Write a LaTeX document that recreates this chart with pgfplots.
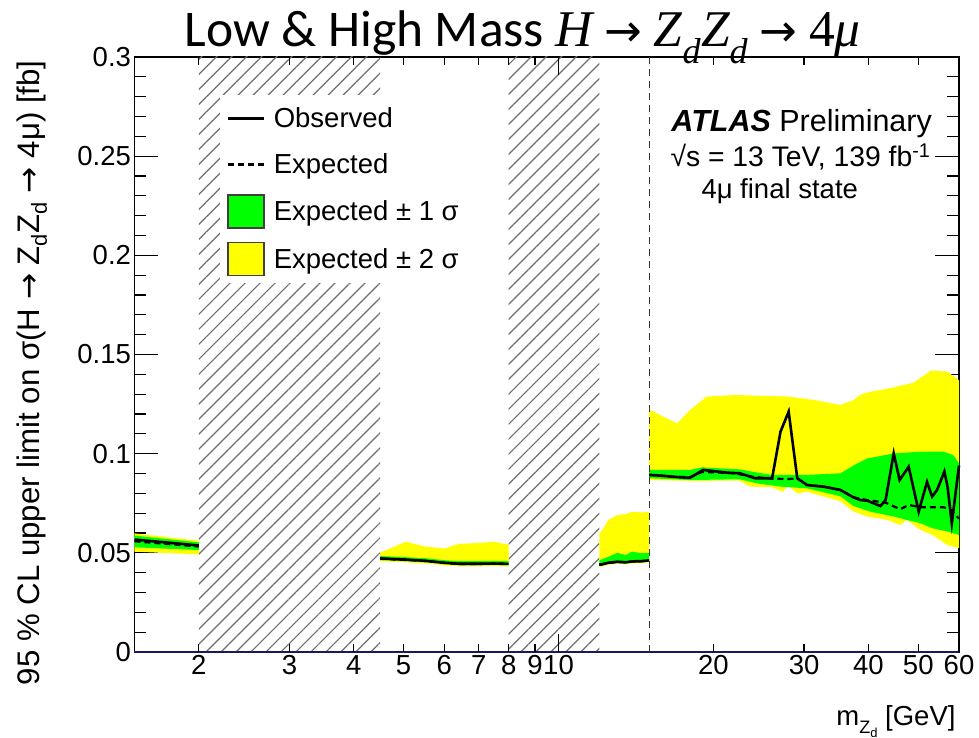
\documentclass[border=0pt]{standalone}
\usepackage{fontspec}
\setmainfont{Liberation Sans}
\newfontfamily\calibri{Carlito}
\newfontfamily\serifit{Liberation Serif}
\newfontfamily\arrowfont{DejaVu Sans}
\usepackage{pgfplots}
\pgfplotsset{compat=1.18}
\usetikzlibrary{patterns.meta}
\definecolor{rootyellow}{RGB}{255,255,0}
\definecolor{rootgreen}{RGB}{0,255,0}
\definecolor{hatchgray}{RGB}{110,110,110}
\definecolor{navyline}{RGB}{25,25,95}
\newcommand\tk{\fontsize{27.5}{33}\selectfont}
\pgfplotsset{
  lineleg/.style={legend image code/.code={\path[draw=none,fill=none] (0pt,-16.5pt) rectangle (36pt,16.5pt); \draw[##1] (0pt,0pt) -- (36pt,0pt);}},
  boxleg/.style={legend image code/.code={\draw[##1] (0pt,-16.5pt) rectangle (36pt,16.5pt);}},
}
\begin{document}
\begin{tikzpicture}
\begin{axis}[
  scale only axis, width=824.5pt, height=595pt,
  xmode=log, xmin=1.5, xmax=60, ymin=0, ymax=0.3,
  clip=false,
  axis line style={line width=1.5pt},
  tick style={line width=1.2pt, black},
  major tick length=24pt, minor tick length=12pt,
  xtick={2,3,4,5,6,7,8,9,10,20,30,40,50,60},
  xticklabels={2,3,4,5,6,7,8,9,10,20,30,40,50,60},
  xtick style={draw=none},
  minor xtick={},
  ytick={0,0.05,0.1,0.15,0.2,0.25,0.3},
  yticklabels={0,0.05,0.1,0.15,0.2,0.25,0.3},
  minor y tick num=4,
  scaled y ticks=false,
  /pgf/number format/assume math mode=true,
  ticklabel style={font=\tk},
  legend style={at={(0.1037,0.9361)}, anchor=north west, draw=none, fill=white,
    inner xsep=6.5pt, inner ysep=6.5pt, row sep=13.3pt, column sep=6.5pt,
    nodes={inner sep=2pt}, font=\tk},
  legend cell align=left,
]
% legend entries
\addlegendimage{lineleg, black, line width=2.6pt}
\addlegendentry{Observed}
\addlegendimage{lineleg, black, line width=2.2pt, dash pattern=on 6pt off 4pt}
\addlegendentry{Expected}
\addlegendimage{boxleg, fill=rootgreen, draw=black!75, line width=1.2pt}
\addlegendentry{Expected ± 1 σ}
\addlegendimage{boxleg, fill=rootyellow, draw=black!75, line width=1.2pt}
\addlegendentry{Expected ± 2 σ}

% hatched excluded regions
\addplot[forget plot, draw=none, pattern={Lines[angle=45,distance=10.6pt,line width=1.2pt]}, pattern color=hatchgray]
  coordinates {(2,0) (2,0.3) (4.5,0.3) (4.5,0)} -- cycle;
\addplot[forget plot, draw=none, pattern={Lines[angle=45,distance=10.6pt,line width=1.2pt]}, pattern color=hatchgray]
  coordinates {(8,0) (8,0.3) (12,0.3) (12,0)} -- cycle;

% ---- segment A (1.5-2)
\addplot[forget plot, fill=rootyellow, draw=none] coordinates {(1.5,0.0598) (2,0.0561) (2,0.0492) (1.5,0.0506)} -- cycle;
\addplot[forget plot, fill=rootgreen, draw=none] coordinates {(1.5,0.0587) (2,0.0553) (2,0.0514) (1.5,0.0528)} -- cycle;
\addplot[forget plot, black, line width=2.2pt, dash pattern=on 6pt off 4pt] coordinates {(1.5,0.0558) (2,0.0532)};
\addplot[forget plot, black, line width=2.6pt] coordinates {(1.5,0.0567) (2,0.0537)};

% ---- segment B (4.5-8)
\addplot[forget plot, fill=rootyellow, draw=none] coordinates {
 (4.5,0.0500) (5.05,0.0556) (5.5,0.0532) (6,0.0522) (6.4,0.0545) (7,0.0550) (7.5,0.0556) (8,0.0540)
 (8,0.0432) (7.5,0.0433) (7,0.0432) (6.4,0.0432) (6,0.0437) (5.5,0.0447) (5.05,0.0452) (4.5,0.0458)} -- cycle;
\addplot[forget plot, fill=rootgreen, draw=none] coordinates {
 (4.5,0.0484) (5.05,0.0478) (5.5,0.0473) (6,0.0463) (6.4,0.0458) (7,0.0458) (7.5,0.0459) (8,0.0458)
 (8,0.0438) (7.5,0.0439) (7,0.0438) (6.4,0.0438) (6,0.0443) (5.5,0.0453) (5.05,0.0458) (4.5,0.0464)} -- cycle;
\addplot[forget plot, black, line width=2.2pt, dash pattern=on 6pt off 4pt] coordinates {
 (4.5,0.0470) (5.05,0.0464) (5.5,0.0459) (6,0.0449) (6.4,0.0444) (7,0.0444) (7.5,0.0445) (8,0.0444)};
\addplot[forget plot, black, line width=2.6pt] coordinates {
 (4.5,0.0472) (5.05,0.0466) (5.5,0.0460) (6,0.0450) (6.4,0.0445) (7,0.0445) (7.5,0.0446) (8,0.0444)};

% ---- segment C (12-15)
\addplot[forget plot, fill=rootyellow, draw=none] coordinates {
 (12,0.0600) (12.16,0.0615) (12.5,0.0666) (13,0.0690) (13.5,0.0696) (13.9,0.0706) (14.5,0.0704) (15,0.0706)
 (15,0.0452) (14.5,0.0448) (13.9,0.0447) (13.5,0.0442) (13,0.0445) (12.5,0.0440) (12.16,0.0432) (12,0.0430)} -- cycle;
\addplot[forget plot, fill=rootgreen, draw=none] coordinates {
 (12,0.0462) (12.16,0.0468) (12.5,0.0480) (13,0.0500) (13.5,0.0489) (13.9,0.0506) (14.5,0.0498) (15,0.0500)
 (15,0.0456) (14.5,0.0452) (13.9,0.0451) (13.5,0.0446) (13,0.0449) (12.5,0.0444) (12.16,0.0436) (12,0.0434)} -- cycle;
\addplot[forget plot, black, line width=2.2pt, dash pattern=on 6pt off 4pt] coordinates {
 (12,0.0441) (12.16,0.0443) (12.5,0.0449) (13,0.0454) (13.5,0.0453) (13.9,0.0456) (14.5,0.0458) (15,0.0461)};
\addplot[forget plot, black, line width=2.6pt] coordinates {
 (12,0.0440) (12.16,0.0442) (12.5,0.0450) (13,0.0455) (13.5,0.0452) (13.9,0.0457) (14.5,0.0458) (15,0.0462)};

% ---- segment D (15-60)
\addplot[forget plot, fill=rootyellow, draw=none] coordinates {
 (15,0.1222) (17,0.1153) (18,0.1220) (19.4,0.1288) (22,0.1296) (28,0.1288) (31.5,0.1270) (35.3,0.1246)
 (37.4,0.1270) (38.5,0.1296) (40,0.1310) (44,0.1330) (49,0.1358) (53,0.1420) (57,0.1413) (60,0.1370)
 (60,0.0523) (56.9,0.0540) (53.3,0.0590) (50.5,0.0615) (47.5,0.0666) (46.1,0.0640) (43.6,0.0666)
 (39.8,0.0683) (37.4,0.0708) (35.3,0.0760) (30.4,0.0808) (29.1,0.0800) (28,0.0837) (27.2,0.0808)
 (26,0.0831) (23.5,0.0834) (22.5,0.0864) (18,0.0863) (15,0.0867)} -- cycle;
\addplot[forget plot, fill=rootgreen, draw=none] coordinates {
 (15,0.0918) (18,0.0918) (19,0.0931) (22.5,0.0921) (24.3,0.0905) (26,0.0893) (30.4,0.0893) (35.3,0.0901)
 (37.4,0.0940) (39.8,0.0976) (44.8,0.1001) (50.5,0.1010) (56,0.1010) (58.5,0.0993) (60,0.0951)
 (60,0.0590) (57,0.0607) (53.3,0.0624) (50.5,0.0649) (47.5,0.0666) (44.8,0.0683) (40.3,0.0708)
 (37.4,0.0736) (35.3,0.0785) (30.4,0.0825) (27,0.0834) (24.3,0.0850) (22.5,0.0871) (18,0.0867) (15,0.0876)} -- cycle;
\addplot[forget plot, black, line width=2.2pt, dash pattern=on 6pt off 4pt] coordinates {
 (15,0.0893) (16,0.0888) (17,0.0883) (18,0.0881) (19,0.0908) (20,0.0906) (22,0.0901) (24,0.0882)
 (26,0.0874) (28,0.0872) (29.1,0.0876) (30.4,0.0842) (32.7,0.0834) (35.3,0.0817) (37.4,0.0780)
 (39.8,0.0766) (43.2,0.0753) (46.1,0.0720) (47.9,0.0741) (50.6,0.0730) (56,0.0730) (57.9,0.0716) (60,0.0672)};
\addplot[forget plot, black, line width=2.6pt] coordinates {
 (15,0.0893) (16,0.0888) (17,0.0882) (18,0.0878) (19.1,0.0918) (21.3,0.0904) (22.5,0.0901) (24.1,0.0876)
 (26,0.0876) (27,0.1111) (28,0.1212) (29.1,0.0876) (30.4,0.0842) (32.7,0.0834) (35.3,0.0817) (37.4,0.0780)
 (38.6,0.0766) (39.8,0.0763) (42.2,0.0736) (43.2,0.0766) (44.8,0.1001) (46.0,0.0867) (47.9,0.0934)
 (50.1,0.0708) (52.0,0.0858) (53.2,0.0783) (54.4,0.0817) (56.2,0.0910) (57.0,0.0834) (58.1,0.0649) (60,0.0940)};

% boundary at 15 GeV and y=0 line
\addplot[forget plot, black!80, line width=1.3pt, dash pattern=on 7pt off 5pt] coordinates {(15,0) (15,0.3)};
\addplot[forget plot, navyline, line width=2.2pt] coordinates {(1.5,0) (60,0)};

% x-axis tick marks (short; longer at 10)
\pgfplotsinvokeforeach{2,3,4,5,6,7,8,9,20,30,40,50,60}{
  \draw[black, line width=1.2pt] (axis cs:#1,0) -- ++(0pt,8pt);
  \draw[black, line width=1.2pt] (axis cs:#1,0.3) -- ++(0pt,-8pt);
}
\draw[black, line width=1.2pt] (axis cs:10,0) -- ++(0pt,18pt);
\draw[black, line width=1.2pt] (axis cs:10,0.3) -- ++(0pt,-18pt);

% texts
\node[anchor=base west, font=\fontsize{30.5}{36}\selectfont] at (rel axis cs:0.647,0.8745) {\textbf{\textit{ATLAS}} Preliminary};
\node[anchor=base west, font=\fontsize{28.3}{33}\selectfont] at (rel axis cs:0.6458,0.8156) {√s = 13 TeV, 139 fb\textsuperscript{-1}};
\node[anchor=base west, font=\fontsize{27.5}{33}\selectfont] at (rel axis cs:0.6834,0.763) {4μ final state};
\node[anchor=base, font=\calibri\fontsize{51.5}{60}\selectfont] at ([yshift=10.3pt]rel axis cs:0.4707,1)
  {Low \& High Mass {\serifit\itshape H} {\arrowfont\fontsize{45}{50}\selectfont →} {\serifit\itshape Z\textsubscript{d}Z\textsubscript{d}} {\arrowfont\fontsize{45}{50}\selectfont →} {\serifit 4\textit{μ}}};
\node[anchor=base east, rotate=90, font=\fontsize{31.2}{37}\selectfont] at ([xshift=-95pt]rel axis cs:0,1)
  {95 \% CL upper limit on σ(H {\arrowfont →} Z\textsubscript{d}Z\textsubscript{d} {\arrowfont →} 4μ) [fb]};
\node[anchor=base east, font=\fontsize{27.5}{33}\selectfont] at ([yshift=-73pt]rel axis cs:1,0)
  {m\raisebox{-8pt}{\fontsize{18}{20}\selectfont Z\raisebox{-4pt}{\fontsize{13}{15}\selectfont d}} [GeV]};
\end{axis}
\pgfresetboundingbox
\path ([shift={(-134.5pt,-86pt)}]current axis.south west) rectangle ([shift={(20pt,57pt)}]current axis.north east);
\end{tikzpicture}
\end{document}
